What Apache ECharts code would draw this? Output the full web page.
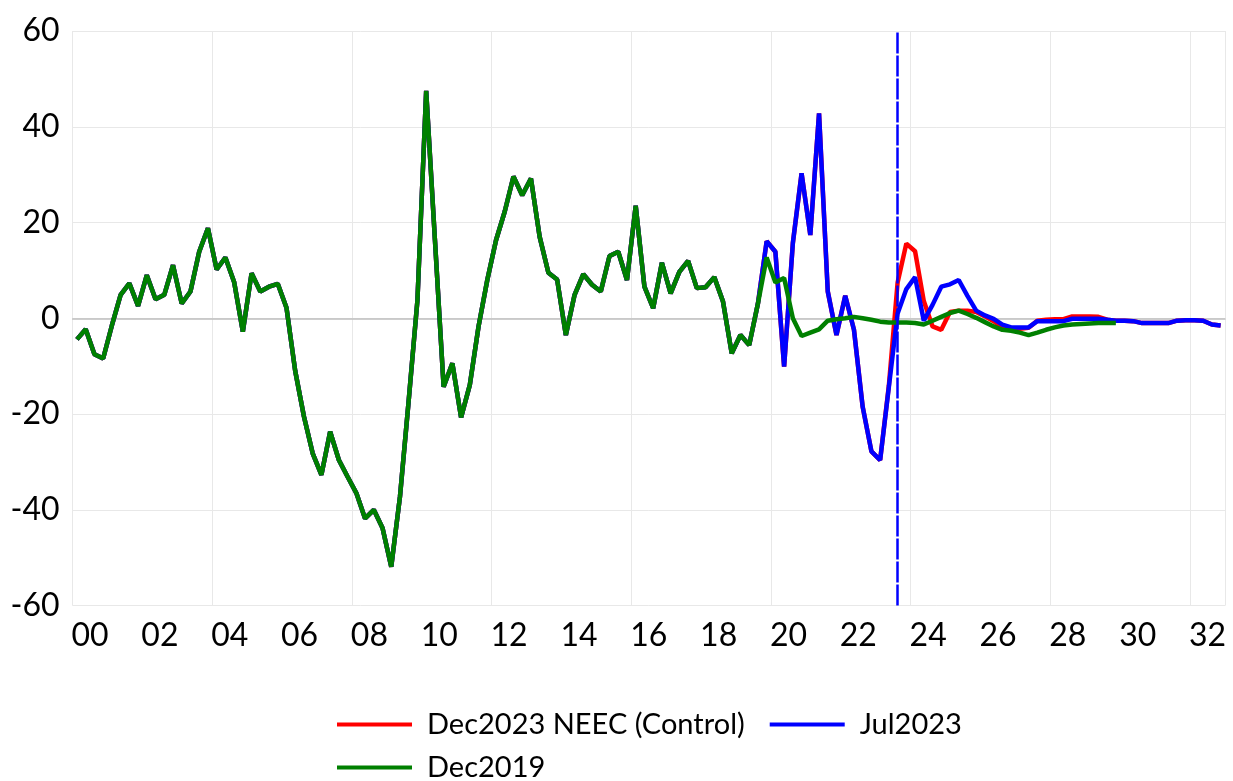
<!DOCTYPE html>
<html>
<head>
<meta charset="utf-8">
<script src="https://cdn.jsdelivr.net/npm/echarts@6/dist/echarts.min.js"></script>
<style>
html,body{margin:0;padding:0;background:#fff;}
#chart{width:1233px;height:781px;}
</style>
</head>
<body>
<div id="chart"></div>
<script>
// ---- categories / tick labels ----
const firstYear = 2000;
const lastYear = 2032;
const yearLabels = ['00','02','04','06','08','10','12','14','16','18','20','22','24','26','28','30','32'];
const forecastStart = '2023Q3';

// ---- series values (quarterly, from 2000Q1) ----
// shared history 2000Q1..2019Q3 (all three vintages)
const history = [
  -4.4, -2.3, -7.5, -8.4, -1.5, 4.9, 7.3, 2.6, 9.0, 4.0,
  4.9, 11.1, 3.1, 5.6, 13.9, 18.8, 10.2, 12.7, 7.6, -2.8,
  9.4, 5.6, 6.6, 7.2, 2.2, -11.0, -20.5, -28.2, -32.7, -23.7,
  -29.6, -33.1, -36.5, -41.8, -40.0, -43.8, -51.9, -37.2, -17.1, 3.8,
  47.5, 16.5, -14.3, -9.4, -20.7, -13.9, -1.7, 8.0, 16.3, 22.3,
  29.6, 25.7, 29.2, 17.0, 9.5, 8.1, -3.5, 4.9, 9.2, 7.0,
  5.6, 13.0, 13.9, 8.0, 23.5, 6.6, 2.1, 11.6, 5.2, 9.7,
  12.0, 6.3, 6.5, 8.6, 3.5, -7.3, -3.5, -5.6, 3.1
];
// 2019Q4 onwards
const controlTail = [
  16.1, 13.9, -10.1, 15.7, 30.3, 17.4, 42.8, 5.6, -3.5, 4.7,
  -2.4, -18.5, -27.8, -29.6, -14.0, 7.5, 15.6, 14.0, 3.6, -1.7,
  -2.4, 1.3, 1.6, 1.6, 1.3, 0.4, -0.6, -1.9, -2.2, -2.2,
  -2.0, -0.5, -0.3, -0.2, -0.2, 0.4, 0.4, 0.4, 0.3, -0.3,
  -0.5, -0.5, -0.6, -1.0, -1.0, -1.0, -1.0, -0.5, -0.4, -0.4,
  -0.5, -1.3, -1.5
];
const jul2023Tail = [
  16.1, 13.9, -10.1, 15.7, 30.3, 17.4, 42.8, 5.6, -3.5, 4.7,
  -2.4, -18.5, -27.8, -29.6, -14.3, 1.0, 6.1, 8.6, -0.5, 2.8,
  6.6, 7.1, 8.0, 4.7, 1.6, 0.6, -0.1, -1.3, -1.9, -1.9,
  -1.9, -0.6, -0.6, -0.6, -0.6, -0.1, -0.1, -0.1, -0.1, -0.3,
  -0.5, -0.5, -0.6, -1.0, -1.0, -1.0, -1.0, -0.5, -0.4, -0.4,
  -0.5, -1.3, -1.5
];
const dec2019Tail = [
  12.7, 7.5, 8.4, 0.0, -3.7, -3.0, -2.3, -0.5, -0.2, 0.0,
  0.3, 0.0, -0.3, -0.7, -0.9, -0.9, -0.9, -1.0, -1.3, -0.5,
  0.3, 1.1, 1.6, 0.9, 0.1, -0.8, -1.7, -2.4, -2.6, -3.0,
  -3.5, -3.0, -2.4, -1.9, -1.5, -1.3, -1.2, -1.1, -1.0, -1.0,
  -1.0
];

// ---- build categories ----
const quarters = [];
const years = [];
for (let y = firstYear; y <= lastYear; y++) {
  years.push(String(y % 100).padStart(2, '0'));
  for (let q = 1; q <= 4; q++) quarters.push(y + 'Q' + q);
}

const control = history.concat(controlTail);
const jul2023 = history.concat(jul2023Tail);
const dec2019 = history.concat(dec2019Tail);

const FONT = 'Lato, "Noto Sans", sans-serif';
const LINE_W = 4.5;

const chart = echarts.init(document.getElementById('chart'), null, {renderer: 'canvas'});
chart.setOption({
  animation: false,
  backgroundColor: '#ffffff',
  grid: {left: 72.6, right: 8, top: 31, bottom: 175.4, containLabel: false},
  xAxis: [
    {
      type: 'category',
      data: quarters,
      boundaryGap: true,
      position: 'bottom',
      axisLine: {show: true, onZero: true, lineStyle: {color: '#bfbfbf', width: 1.5}},
      axisTick: {show: false},
      axisLabel: {show: false},
      splitLine: {show: false}
    },
    {
      type: 'category',
      data: years,
      boundaryGap: true,
      position: 'bottom',
      axisLine: {show: false, onZero: false},
      axisTick: {show: false},
      axisLabel: {
        interval: 1,
        fontSize: 32,
        color: '#000',
        fontFamily: FONT,
        margin: 14,
        formatter: function (v) { return yearLabels.indexOf(v) >= 0 ? v : ''; }
      },
      splitLine: {show: true, interval: 3, lineStyle: {color: '#e8e8e8', width: 1}}
    }
  ],
  yAxis: {
    type: 'value',
    min: -60,
    max: 60,
    interval: 20,
    axisLine: {show: false},
    axisTick: {show: false},
    axisLabel: {fontSize: 32, color: '#000', fontFamily: FONT, margin: 13, padding: [0, 0, 8, 0]},
    splitLine: {show: true, lineStyle: {color: '#e8e8e8', width: 1}}
  },
  legend: [
    {
      data: ['Dec2023 NEEC (Control)', 'Jul2023'],
      left: 337,
      top: 710,
      padding: 0,
      icon: 'rect',
      itemWidth: 75,
      itemHeight: 4,
      itemGap: 25,
      textStyle: {fontSize: 29, fontFamily: FONT, color: '#000', padding: [0, 0, 0, 10]}
    },
    {
      data: ['Dec2019'],
      left: 337,
      top: 753,
      padding: 0,
      icon: 'rect',
      itemWidth: 75,
      itemHeight: 4,
      textStyle: {fontSize: 29, fontFamily: FONT, color: '#000', padding: [0, 0, 0, 10]}
    }
  ],
  series: [
    {
      name: 'Dec2023 NEEC (Control)',
      type: 'line',
      xAxisIndex: 0,
      data: control,
      symbol: 'none',
      lineStyle: {color: '#ff0000', width: LINE_W},
      itemStyle: {color: '#ff0000'},
      z: 2
    },
    {
      name: 'Jul2023',
      type: 'line',
      xAxisIndex: 0,
      data: jul2023,
      symbol: 'none',
      lineStyle: {color: '#0000ff', width: LINE_W},
      itemStyle: {color: '#0000ff'},
      z: 3,
      markLine: {
        silent: true,
        symbol: ['none', 'none'],
        label: {show: false},
        lineStyle: {color: '#0000ff', width: 2.5, type: [21, 2]},
        data: [{xAxis: forecastStart}]
      }
    },
    {
      name: 'Dec2019',
      type: 'line',
      xAxisIndex: 0,
      data: dec2019,
      symbol: 'none',
      lineStyle: {color: '#008000', width: LINE_W},
      itemStyle: {color: '#008000'},
      z: 4
    }
  ]
});
</script>
</body>
</html>
